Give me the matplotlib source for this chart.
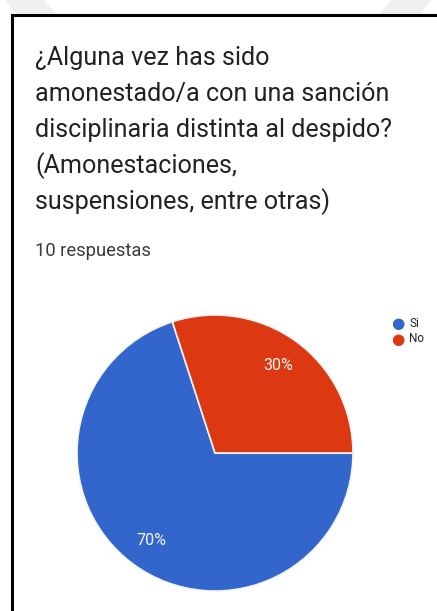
import matplotlib.pyplot as plt
from matplotlib.patches import Rectangle, Circle

# Respuestas del formulario
labels = ['Si', 'No']
values = [70, 30]
colors = ['#3366cc', '#dc3912']
n_respuestas = 10

title_lines = [
    '¿Alguna vez has sido',
    'amonestado/a con una sanción',
    'disciplinaria distinta al despido?',
    '(Amonestaciones,',
    'suspensiones, entre otras)',
]

W, H = 437, 611
fig = plt.figure(figsize=(W / 100, H / 100), dpi=100)
fig.patch.set_facecolor('white')

# marca de agua tenue detrás de la tarjeta
bg = fig.add_axes([0, 0, 1, 1], zorder=-5)
bg.set_xlim(0, W)
bg.set_ylim(H, 0)
bg.axis('off')
bg.add_patch(Circle((218, -150), 245, fill=False, edgecolor='#efefef',
                    linewidth=22))

# marco negro de la tarjeta
fig.patches.append(Rectangle((12 / W, -0.1), 1.0, (H - 15) / H + 0.1,
                             transform=fig.transFigure, fill=True,
                             facecolor='white', edgecolor='black',
                             linewidth=2.2, zorder=-1))

# pregunta
y0 = 58
for i, line in enumerate(title_lines):
    fig.text(35 / W, 1 - (y0 + i * 36) / H, line, family='Roboto',
             fontsize=18.1, color='#222222', va='center', ha='left')
fig.text(35 / W, 1 - 251 / H, f'{n_respuestas} respuestas', family='Roboto',
         fontsize=13.2, color='#3a3a3a', va='center', ha='left')

# gráfico circular
cx, cy, r = 215, 453, 138
ax = fig.add_axes([(cx - r) / W, (H - cy - r) / H, 2 * r / W, 2 * r / H])
ax.pie(values, colors=colors, startangle=108, counterclock=True,
       autopct='%1.0f%%', pctdistance=0.78, radius=1,
       wedgeprops=dict(edgecolor='#f4f4f4', linewidth=1.2),
       textprops=dict(color='#f6f6f6', fontsize=11.5, family='Roboto'))
ax.set_xlim(-1, 1)
ax.set_ylim(-1, 1)
ax.set_aspect('equal')
ax.axis('off')

# leyenda
for i, (lab, col) in enumerate(zip(labels, colors)):
    yy = 1 - (323 + i * 16) / H
    fig.text(398 / W, yy, '●', color=col, fontsize=11, ha='center',
             va='center', family='DejaVu Sans')
    fig.text(409 / W, yy, lab, color='#222222', fontsize=8.5, ha='left',
             va='center', family='Roboto')

fig.savefig('out.png', dpi=100)
